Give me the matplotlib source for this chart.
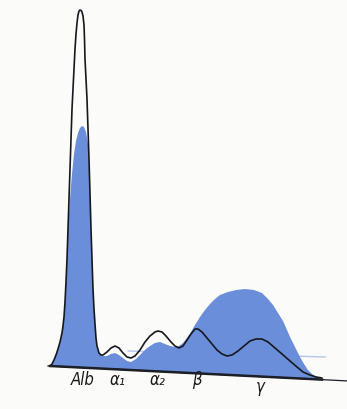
import matplotlib
matplotlib.use("Agg")
import matplotlib.pyplot as plt

# Densitometer trace: x = migration position, y = depth from top (pixels)
# Normal serum (black outline)
normal_x = [50, 52, 54, 56, 58, 60, 62, 63, 64, 65, 66, 67, 68, 69, 70, 71, 72, 73, 74, 75,
            76, 77, 78, 79, 80, 81, 82, 83, 84, 84.5, 85, 86, 87, 88, 89, 90, 91, 92, 93, 94,
            95, 96, 97, 99, 101, 103, 107, 111, 115, 119, 123, 127, 131, 135, 140, 145, 150, 155, 158, 162,
            166, 171, 175, 179, 183, 187, 191, 195, 198, 202, 207, 212, 217, 222, 227, 232, 238, 244, 250, 256,
            262, 268, 275, 282, 290, 297, 303, 310, 316, 322]
normal_y = [367, 365, 361, 356, 350, 343, 334, 327, 318, 303, 283, 260, 230, 200, 170, 140, 110, 90, 70, 50,
            35, 24, 16, 12, 11, 11.5, 13, 17, 26, 40, 60, 80, 100, 130, 160, 195, 230, 260, 290, 310,
            325, 339, 347, 354, 356, 356, 353, 349, 347, 349, 354, 358, 359, 357, 351, 343, 337, 333, 332, 333,
            337, 343, 347, 349, 347, 341, 335, 330, 330, 333, 339, 345, 351, 355, 357, 356, 352, 347, 342, 340,
            340, 343, 349, 355, 362, 368, 373, 376, 378, 379]

# Patient serum (blue filled area)
patient_x = [50, 52, 54, 56, 58, 60, 62, 63, 64, 65, 66, 67, 68, 70, 72, 74, 76, 78, 80, 82,
             84, 86, 88, 89, 90, 91, 92, 93, 95, 96, 97, 99, 103, 107, 111, 115, 119, 123, 127, 131,
             136, 141, 146, 150, 155, 160, 165, 170, 175, 179, 183, 187, 191, 195, 200, 205, 210, 215, 220, 228,
             236, 245, 254, 262, 268, 273, 278, 283, 287, 291, 296, 300, 304, 308, 312, 318, 322]
patient_y = [367, 365, 361, 356, 350, 343, 334, 327, 318, 303, 283, 260, 230, 200, 175, 155, 142, 134, 129, 127,
             128, 133, 145, 162, 195, 230, 260, 290, 325, 339, 347, 354, 357, 357, 355, 354, 356, 359, 362, 363,
             360, 355, 350, 347, 344, 343, 345, 347, 348, 347, 344, 339, 333, 326, 318, 311, 305, 300, 296, 293,
             291, 290, 291, 294, 300, 306, 314, 322, 331, 340, 350, 358, 365, 371, 375, 379, 380]

# baseline of the trace (slightly tilted in the scan)
base_x = [48, 347]
base_y = [366.9, 381.9]
trace_end_x = [50, 322]
trace_end_y = [367, 380.6]

# faint line showing through from the other side of the page
ghost_x = [128, 325]
ghost_y = [352, 358]

labels = ["Alb", "α₁", "α₂", "β", "γ"]
label_x = [83, 118, 158, 197, 260]
label_y = [385, 385, 385, 385, 392]

fig = plt.figure(figsize=(3.47, 4.10), dpi=100, facecolor="#fbfbf9")
ax = fig.add_axes([0, 0, 1, 1])
ax.set_facecolor("#fbfbf9")
ax.set_xlim(0, 347)
ax.set_ylim(410, 0)
ax.axis("off")

ax.plot(ghost_x, ghost_y, color="#b4c6ea", lw=1.0, zorder=1)

# blue area closed along the baseline
ax.fill(patient_x + trace_end_x[::-1], patient_y + trace_end_y[::-1],
        color="#6b8edb", lw=0, zorder=2)

ax.plot(normal_x, normal_y, color="#16181d", lw=1.2, zorder=3,
        solid_joinstyle="round", solid_capstyle="round")

ax.plot(base_x, base_y, color="#1c1f26", lw=0.9, zorder=4)
ax.plot(trace_end_x, trace_end_y, color="#1c1f26", lw=1.8, zorder=4)

for lab, x, y in zip(labels, label_x, label_y):
    ax.text(x, y, lab, ha="center", va="baseline", fontsize=12, style="italic",
            family="DejaVu Sans", stretch="condensed", color="#1a1a1a")

fig.savefig("out.png", dpi=100, facecolor=fig.get_facecolor())
